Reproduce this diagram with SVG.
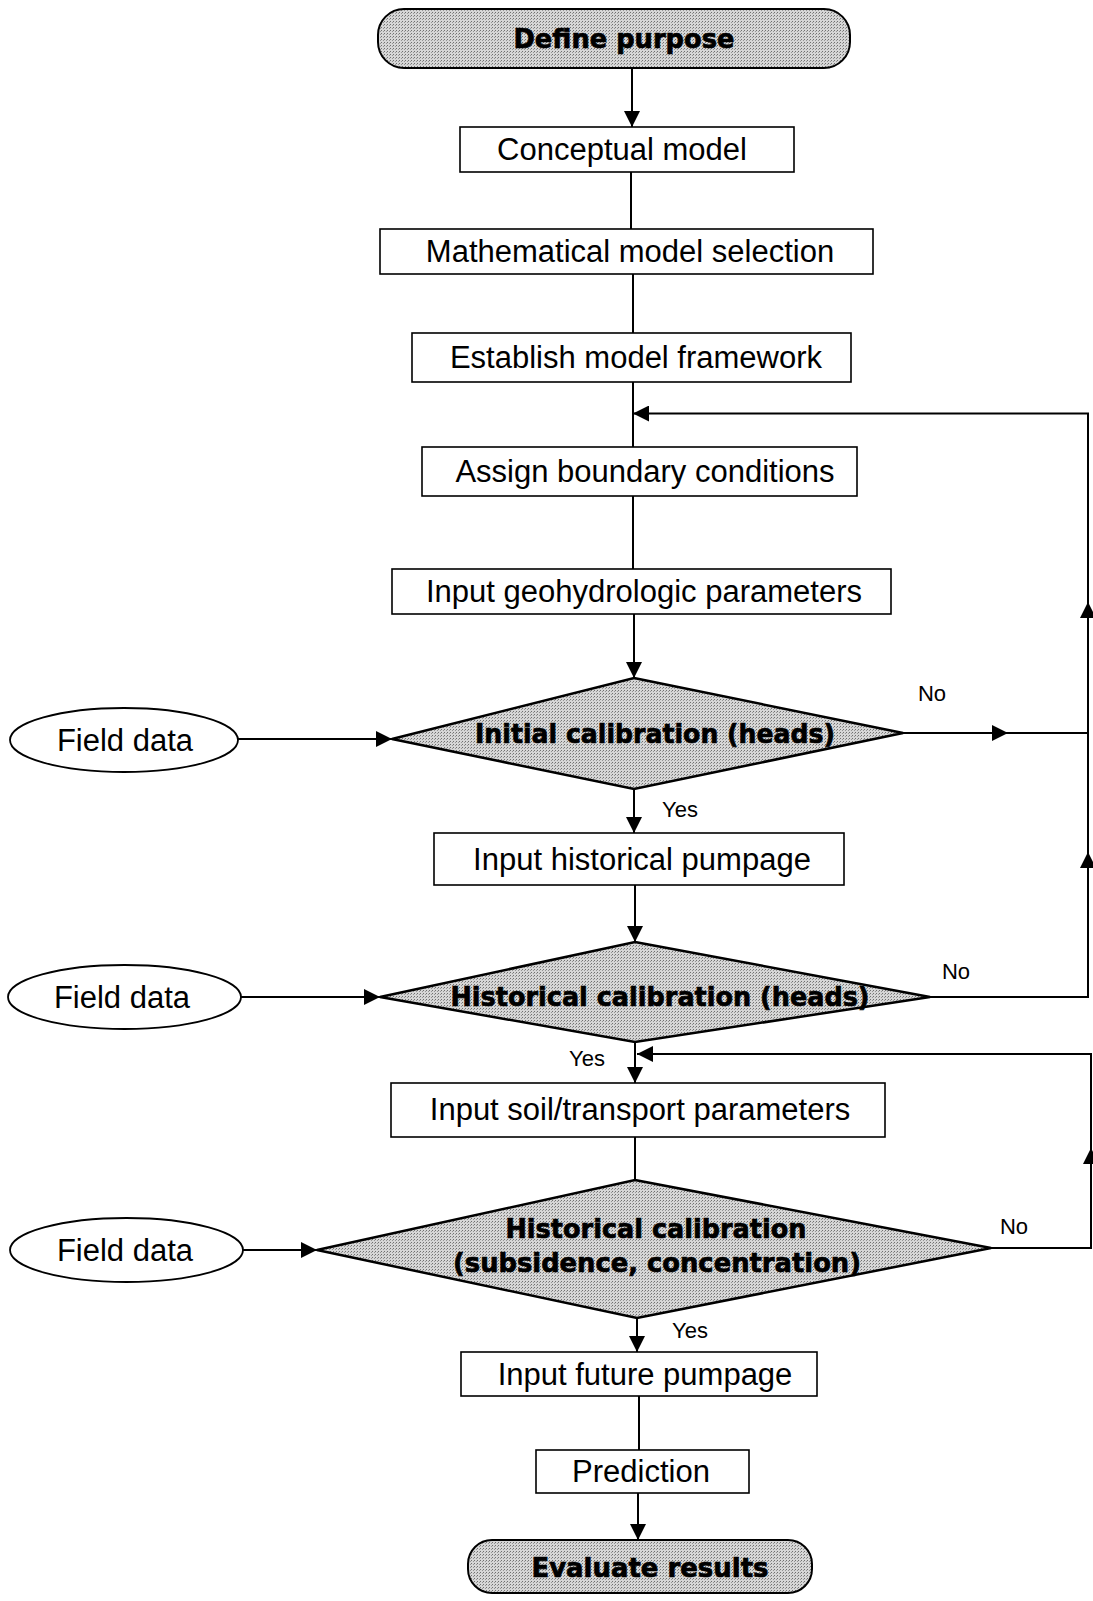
<svg xmlns="http://www.w3.org/2000/svg" width="1093" height="1601" viewBox="0 0 1093 1601">
<defs>
<pattern id="stip" width="3" height="3" patternUnits="userSpaceOnUse">
<rect width="3" height="3" fill="#d6d6d6"/>
<rect x="0" y="0" width="1" height="1" fill="#707070"/>
<rect x="2" y="1" width="1" height="1" fill="#959595"/>
</pattern>
<marker id="ah" viewBox="0 0 16 16" refX="16" refY="8" markerWidth="16" markerHeight="16" markerUnits="userSpaceOnUse" orient="auto">
<path d="M0,0 L16,8 L0,16 z" fill="#000"/>
</marker>
<style>
.box{fill:#fff;stroke:#000;stroke-width:1.6}
.term{fill:url(#stip);stroke:#000;stroke-width:2}
.dec{fill:url(#stip);stroke:#000;stroke-width:2.5}
.oval{fill:#fff;stroke:#000;stroke-width:1.8}
.t{font-family:"Liberation Sans",Arial,sans-serif;font-size:31px;fill:#000;text-anchor:middle}
.b{font-family:"DejaVu Sans",sans-serif;font-weight:bold;font-size:27px;fill:#000;stroke:#000;stroke-width:0.7;text-anchor:middle}
.s{font-family:"Liberation Sans",Arial,sans-serif;font-size:22px;fill:#000;text-anchor:middle}
.c{fill:none;stroke:#000;stroke-width:2}
.ca{fill:none;stroke:#000;stroke-width:2;marker-end:url(#ah)}
</style>
</defs>
<rect width="1093" height="1601" fill="#fff"/>

<g id="connectors">
<path class="ca" d="M632,68 V127"/>
<path class="c" d="M631,172 V229"/>
<path class="c" d="M633,274 V333"/>
<path class="c" d="M633,382 V447"/>
<path class="c" d="M633,496 V569"/>
<path class="ca" d="M634,614 V678"/>
<path class="ca" d="M634,789 V833"/>
<path class="ca" d="M635,885 V942"/>
<path class="ca" d="M635,1042 V1083"/>
<path class="c" d="M635,1137 V1180"/>
<path class="ca" d="M637,1318 V1352"/>
<path class="c" d="M639,1396 V1450"/>
<path class="ca" d="M638,1493 V1540"/>
<path class="ca" d="M238,739 H392"/>
<path class="ca" d="M241,997 H380"/>
<path class="ca" d="M243,1250 H317"/>
<path class="ca" d="M903,733 H1008"/>
<path class="c" d="M1008,733 H1088"/>
<path class="ca" d="M930,997 H1088 V852"/>
<path class="ca" d="M1088,852 V602"/>
<path class="ca" d="M1088,602 V413.5 H633"/>
<path class="ca" d="M991,1248 H1091 V1148"/>
<path class="ca" d="M1091,1148 V1054 H637"/>
</g>

<g id="define-purpose">
<rect class="term" x="378" y="9" width="472" height="59" rx="26"/>
<text class="b" x="624" y="48" textLength="221" lengthAdjust="spacingAndGlyphs">Define purpose</text>
</g>
<g id="conceptual-model">
<rect class="box" x="460" y="127" width="334" height="45"/>
<text class="t" x="622" y="160">Conceptual model</text>
</g>
<g id="math-model">
<rect class="box" x="380" y="229" width="493" height="45"/>
<text class="t" x="630" y="262">Mathematical model selection</text>
</g>
<g id="framework">
<rect class="box" x="412" y="333" width="439" height="49"/>
<text class="t" x="636" y="368">Establish model framework</text>
</g>
<g id="boundary">
<rect class="box" x="422" y="447" width="435" height="49"/>
<text class="t" x="645" y="482">Assign boundary conditions</text>
</g>
<g id="geohydro">
<rect class="box" x="392" y="569" width="499" height="45"/>
<text class="t" x="644" y="602">Input geohydrologic parameters</text>
</g>
<g id="initial-calibration">
<polygon class="dec" points="634,678 903,733 634,789 392,739"/>
<text class="b" x="655" y="743" textLength="360" lengthAdjust="spacingAndGlyphs">Initial calibration (heads)</text>
</g>
<g id="field-data-1">
<ellipse class="oval" cx="124" cy="740" rx="114" ry="32"/>
<text class="t" x="125" y="751">Field data</text>
</g>
<g id="historical-pumpage">
<rect class="box" x="434" y="833" width="410" height="52"/>
<text class="t" x="642" y="870">Input historical pumpage</text>
</g>
<g id="historical-calibration">
<polygon class="dec" points="635,942 930,997 635,1042 380,997"/>
<text class="b" x="660" y="1006" textLength="419" lengthAdjust="spacingAndGlyphs">Historical calibration (heads)</text>
</g>
<g id="field-data-2">
<ellipse class="oval" cx="124.5" cy="997" rx="116.5" ry="32"/>
<text class="t" x="122" y="1008">Field data</text>
</g>
<g id="soil-transport">
<rect class="box" x="391" y="1083" width="494" height="54"/>
<text class="t" x="640" y="1120">Input soil/transport parameters</text>
</g>
<g id="historical-calibration-2">
<polygon class="dec" points="635,1180 991,1248 637,1318 317,1250"/>
<text class="b" x="656" y="1238" textLength="301" lengthAdjust="spacingAndGlyphs">Historical calibration</text>
<text class="b" x="657" y="1272" textLength="408" lengthAdjust="spacingAndGlyphs">(subsidence, concentration)</text>
</g>
<g id="field-data-3">
<ellipse class="oval" cx="126.5" cy="1250" rx="116.5" ry="32"/>
<text class="t" x="125" y="1261">Field data</text>
</g>
<g id="future-pumpage">
<rect class="box" x="461" y="1352" width="356" height="44"/>
<text class="t" x="645" y="1385">Input future pumpage</text>
</g>
<g id="prediction">
<rect class="box" x="536" y="1450" width="213" height="43"/>
<text class="t" x="641" y="1482">Prediction</text>
</g>
<g id="evaluate-results">
<rect class="term" x="468" y="1540" width="344" height="53" rx="24"/>
<text class="b" x="650" y="1577" textLength="237" lengthAdjust="spacingAndGlyphs">Evaluate results</text>
</g>

<g id="labels">
<text class="s" x="932" y="701">No</text>
<text class="s" x="680" y="817">Yes</text>
<text class="s" x="956" y="979">No</text>
<text class="s" x="587" y="1066">Yes</text>
<text class="s" x="1014" y="1234">No</text>
<text class="s" x="690" y="1338">Yes</text>
</g>
</svg>
